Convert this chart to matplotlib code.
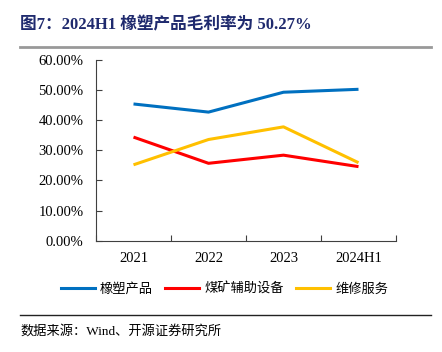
import matplotlib
matplotlib.use("Agg")
from matplotlib import pyplot as plt
from matplotlib.lines import Line2D

plt.rcParams['font.family'] = ['Liberation Serif', 'Noto Sans CJK SC', 'DejaVu Sans']

categories = ["2021", "2022", "2023", "2024H1"]
rubber_plastic = [45.4, 42.7, 49.3, 50.27]
mining_aux = [34.4, 25.7, 28.4, 24.6]
repair_service = [25.2, 33.6, 37.8, 25.9]
series_names = ["橡塑产品", "煤矿辅助设备", "维修服务"]
colors = ["#0070C0", "#FF0000", "#FFC000"]
y_ticks = [0, 10, 20, 30, 40, 50, 60]

fig = plt.figure(figsize=(4.42, 3.52), dpi=100)
ax = fig.add_axes([96 / 442, 1 - 240.7 / 352, 300 / 442, 180.7 / 352])

x = list(range(len(categories)))
for vals, c in zip([rubber_plastic, mining_aux, repair_service], colors):
    ax.plot(x, vals, color=c, linewidth=2.2, solid_capstyle='butt')

ax.set_xlim(-0.5, len(categories) - 0.5)
ax.set_ylim(0, 60)
ax.set_yticks(y_ticks)
ax.set_yticklabels([f"{v:.2f}%" for v in y_ticks], fontsize=10.5)
ax.set_xticks([i - 0.5 for i in range(len(categories) + 1)])
ax.set_xticklabels([])
ax.set_xticks(x, minor=True)
ax.set_xticklabels(categories, minor=True, fontsize=10.5)
ax.tick_params(axis='x', which='minor', length=0, pad=8)
ax.tick_params(axis='both', which='major', direction='in', length=4, color='#404040')
ax.tick_params(axis='y', pad=9)
for s in ['top', 'right']:
    ax.spines[s].set_visible(False)
for s in ['left', 'bottom']:
    ax.spines[s].set_color('#404040')

handles = [Line2D([0], [0], color=c, linewidth=2.2) for c in colors]
fig.legend(handles, series_names, loc='center', bbox_to_anchor=(0.508, 1 - 289 / 352),
           ncol=3, frameon=False, handlelength=2.6, columnspacing=0.9, handletextpad=0.4,
           prop={'family': ['Noto Sans CJK SC'], 'size': 9.5})

fig.text(20 / 442, 1 - 25 / 352, "图7：2024H1 橡塑产品毛利率为 50.27%", fontsize=12,
         fontweight='bold', color='#1F2A6E', va='center',
         family=['Liberation Serif', 'Noto Sans CJK SC', 'DejaVu Sans'])
fig.add_artist(Line2D([20 / 442, 431 / 442], [1 - 47 / 352] * 2, color='#999999', linewidth=2))
fig.add_artist(Line2D([20 / 442, 431 / 442], [1 - 315 / 352] * 2, color='#222222', linewidth=1))
fig.text(20 / 442, 1 - 331 / 352, "数据来源：Wind、开源证券研究所", fontsize=9.5, va='center',
         family=['Liberation Serif', 'Noto Sans CJK SC', 'DejaVu Sans'])

fig.savefig("out.png", dpi=100)
